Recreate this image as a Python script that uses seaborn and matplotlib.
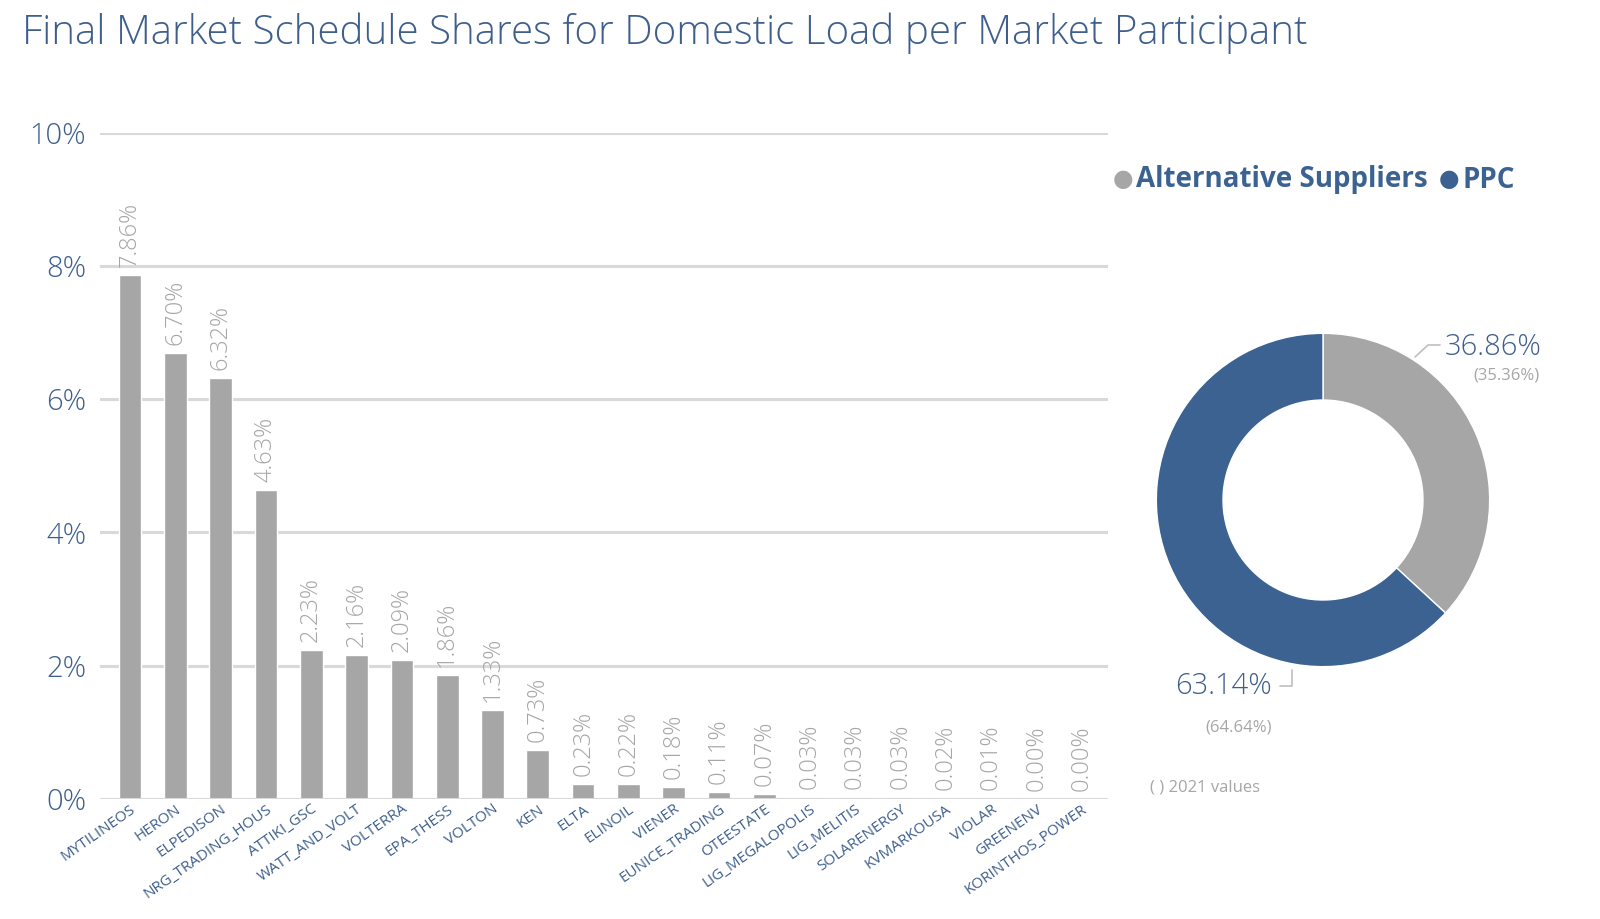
import numpy as np
import pandas as pd
import matplotlib
matplotlib.use("Agg")
import matplotlib.pyplot as plt
import seaborn as sns

# === Data ===
participants = ["MYTILINEOS", "HERON", "ELPEDISON", "NRG_TRADING_HOUS", "ATTIKI_GSC",
                "WATT_AND_VOLT", "VOLTERRA", "EPA_THESS", "VOLTON", "KEN", "ELTA",
                "ELINOIL", "VIENER", "EUNICE_TRADING", "OTEESTATE", "LIG_MEGALOPOLIS",
                "LIG_MELITIS", "SOLARENERGY", "KVMARKOUSA", "VIOLAR", "GREENENV",
                "KORINTHOS_POWER"]
shares = [7.86, 6.70, 6.32, 4.63, 2.23, 2.16, 2.09, 1.86, 1.33, 0.73, 0.23,
          0.22, 0.18, 0.11, 0.07, 0.03, 0.03, 0.03, 0.02, 0.01, 0.00, 0.00]
groups = ["Alternative Suppliers", "PPC"]
group_share = [36.86, 63.14]
group_share_2021 = [35.36, 64.64]
yticks = [0, 2, 4, 6, 8, 10]

BLUE = "#3b6291"
GREY = "#a6a6a6"
TXT = "#3e5f8c"

sns.set_theme(style="white")
plt.rcParams["font.family"] = ["Open Sans", "DejaVu Sans"]

df = pd.DataFrame({"participant": participants, "share": shares})

fig = plt.figure(figsize=(16, 9.19), dpi=100)

# === Bar chart ===
ax = fig.add_axes([0.0625, 0.1306, 0.63, 0.725])
sns.barplot(data=df, x="participant", y="share", color=GREY, width=0.5,
            saturation=1, ax=ax, zorder=3)
ax.set_ylim(0, 10)
ax.set_xlim(-0.66, len(participants) - 0.42)
ax.set_yticks(yticks)
ax.set_yticklabels([f"{t}%" for t in yticks], fontsize=21, color=TXT,
                   fontweight="light")
ax.yaxis.grid(True, color="#d9d9d9", linewidth=2.2, zorder=0)
ax.set_axisbelow(True)
ax.tick_params(axis="y", length=0, pad=10)
ax.tick_params(axis="x", length=0, pad=2)
ax.set_xticks(range(len(participants)))
ax.set_xticklabels(participants, rotation=35, ha="right", rotation_mode="anchor",
                   fontsize=11, color=TXT)
ax.set_xlabel("")
ax.set_ylabel("")
for s in ax.spines.values():
    s.set_visible(False)
ax.axhline(0, color="#d9d9d9", linewidth=2.2, zorder=4)

for i, v in enumerate(shares):
    ax.text(i, v + 0.12, f"{v:.2f}%", rotation=90, ha="center", va="bottom",
            fontsize=17, color=GREY, fontweight="light")

# === Donut ===
ax2 = fig.add_axes([(1323 - 200) / 1600, (919 - 500 - 200) / 919, 400 / 1600, 400 / 919])
ax2.pie(group_share, colors=[GREY, BLUE], startangle=90, counterclock=False,
        radius=1, wedgeprops=dict(width=0.4, edgecolor="white", linewidth=1))
ax2.set_xlim(-1.2, 1.2)
ax2.set_ylim(-1.2, 1.2)
ax2.set_aspect("equal")
ax2.axis("off")

fig.text(1445 / 1600, 1 - 347 / 919, f"{group_share[0]:.2f}%", fontsize=21,
         color=TXT, ha="left", va="center", fontweight="light")
fig.text(1540 / 1600, 1 - 375 / 919, f"({group_share_2021[0]:.2f}%)", fontsize=12,
         color=GREY, ha="right", va="center")
fig.text(1272 / 1600, 1 - 686 / 919, f"{group_share[1]:.2f}%", fontsize=21,
         color=TXT, ha="right", va="center", fontweight="light")
fig.text(1272 / 1600, 1 - 727 / 919, f"({group_share_2021[1]:.2f}%)", fontsize=12,
         color=GREY, ha="right", va="center")
fig.text(1150 / 1600, 1 - 787 / 919, "( ) 2021 values", fontsize=12,
         color=GREY, ha="left", va="center")

# leader lines
fig.add_artist(plt.Line2D([1415 / 1600, 1428 / 1600, 1440 / 1600],
                          [1 - 357 / 919, 1 - 345 / 919, 1 - 345 / 919],
                          color="#bfbfbf", linewidth=1.2))
fig.add_artist(plt.Line2D([1280 / 1600, 1292 / 1600, 1292 / 1600],
                          [1 - 686 / 919, 1 - 686 / 919, 1 - 670 / 919],
                          color="#bfbfbf", linewidth=1.2))

# legend: dot + bold label, each placed right after the previous text
ly = 1 - 180 / 919
dot = fig.text(1113 / 1600, ly, "\u25CF", fontsize=17, color=GREY,
               ha="left", va="center")
for k, (name, col) in enumerate(zip(groups, [GREY, BLUE])):
    if k > 0:
        dot = plt.annotate("\u25CF", xy=(1, 0.5), xycoords=label, xytext=(8, 0),
                           textcoords="offset points", fontsize=17, color=col,
                           ha="left", va="center")
    label = plt.annotate(name, xy=(1, 0.5), xycoords=dot, xytext=(2, 0),
                         textcoords="offset points", fontsize=20, color=BLUE,
                         fontweight="bold", ha="left", va="center")

# title
fig.text(22 / 1600, 1 - 33 / 919,
         "Final Market Schedule Shares for Domestic Load per Market Participant",
         fontsize=29, color=TXT, ha="left", va="center", fontweight="light")

fig.savefig("out.png", dpi=100)
